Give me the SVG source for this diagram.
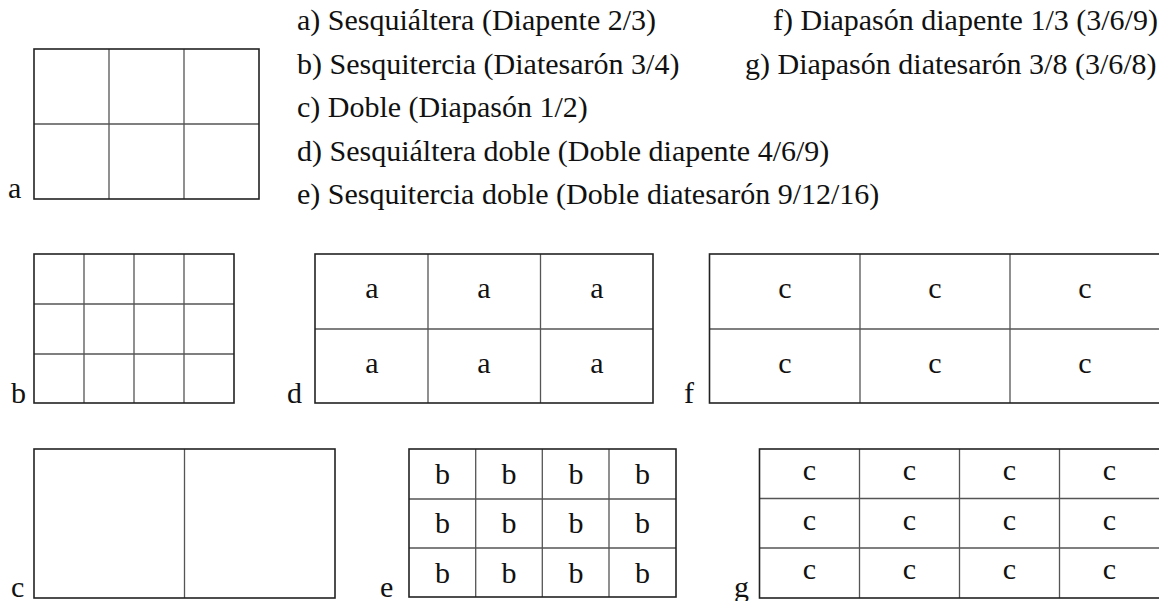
<svg xmlns="http://www.w3.org/2000/svg" width="1159" height="601" viewBox="0 0 1159 601">
<style>
text{font-family:"Liberation Serif","Times New Roman",serif;font-size:30px;fill:#111}
.c{text-anchor:middle}
.o{fill:none;stroke:#222;stroke-width:1.6}
.i{fill:none;stroke:#555;stroke-width:1.3}
</style>
<rect width="1159" height="601" fill="#fff"/>
<g id="legend">
<text x="297" y="30">a) Sesquiáltera (Diapente 2/3)</text>
<text x="297" y="74">b) Sesquitercia (Diatesarón 3/4)</text>
<text x="297" y="117">c) Doble (Diapasón 1/2)</text>
<text x="297" y="161">d) Sesquiáltera doble (Doble diapente 4/6/9)</text>
<text x="297" y="204">e) Sesquitercia doble (Doble diatesarón 9/12/16)</text>
<text x="773" y="30">f) Diapasón diapente 1/3 (3/6/9)</text>
<text x="745" y="74">g) Diapasón diatesarón 3/8 (3/6/8)</text>
</g>
<g id="box-a">
<text x="8" y="198">a</text>
<path class="i" d="M109,49V199M184,49V199M34,124H259"/>
<rect class="o" x="34" y="49" width="225" height="150"/>
</g>
<g id="box-b">
<text x="11" y="403">b</text>
<path class="i" d="M84,254V403M134,254V403M184,254V403M34,304H234M34,354H234"/>
<rect class="o" x="34" y="254" width="200" height="149"/>
</g>
<g id="box-c">
<text x="11" y="597">c</text>
<path class="i" d="M184.5,449V598"/>
<rect class="o" x="34" y="449" width="301" height="149"/>
</g>
<g id="box-d">
<text x="287" y="403">d</text>
<path class="i" d="M428,254V403M540.5,254V403M315,329H653"/>
<rect class="o" x="315" y="254" width="338" height="149"/>
<text class="c" x="372" y="298">a</text><text class="c" x="484" y="298">a</text><text class="c" x="597" y="298">a</text>
<text class="c" x="372" y="373">a</text><text class="c" x="484" y="373">a</text><text class="c" x="597" y="373">a</text>
</g>
<g id="box-e">
<text x="380" y="597">e</text>
<path class="i" d="M475.7,449V597M542.3,449V597M609,449V597M409,499H676M409,548H676"/>
<rect class="o" x="409" y="449" width="267" height="148"/>
<text class="c" x="442.5" y="484">b</text><text class="c" x="509" y="484">b</text><text class="c" x="576" y="484">b</text><text class="c" x="642.5" y="484">b</text>
<text class="c" x="442.5" y="533">b</text><text class="c" x="509" y="533">b</text><text class="c" x="576" y="533">b</text><text class="c" x="642.5" y="533">b</text>
<text class="c" x="442.5" y="583">b</text><text class="c" x="509" y="583">b</text><text class="c" x="576" y="583">b</text><text class="c" x="642.5" y="583">b</text>
</g>
<g id="box-f">
<text x="684" y="403">f</text>
<path class="i" d="M860,254V403M1010,254V403M709.5,329H1160"/>
<rect class="o" x="709.5" y="254" width="451" height="149"/>
<text class="c" x="785" y="298">c</text><text class="c" x="935" y="298">c</text><text class="c" x="1085" y="298">c</text>
<text class="c" x="785" y="373">c</text><text class="c" x="935" y="373">c</text><text class="c" x="1085" y="373">c</text>
</g>
<g id="box-g">
<text x="734" y="597">g</text>
<path class="i" d="M859.5,449V598M959.5,449V598M1059.5,449V598M759.5,498.5H1160M759.5,548H1160"/>
<rect class="o" x="759.5" y="449" width="401" height="149"/>
<text class="c" x="809.5" y="480">c</text><text class="c" x="909.5" y="480">c</text><text class="c" x="1009.5" y="480">c</text><text class="c" x="1109.5" y="480">c</text>
<text class="c" x="809.5" y="530">c</text><text class="c" x="909.5" y="530">c</text><text class="c" x="1009.5" y="530">c</text><text class="c" x="1109.5" y="530">c</text>
<text class="c" x="809.5" y="579">c</text><text class="c" x="909.5" y="579">c</text><text class="c" x="1009.5" y="579">c</text><text class="c" x="1109.5" y="579">c</text>
</g>
<g id="connectors"/>
</svg>
